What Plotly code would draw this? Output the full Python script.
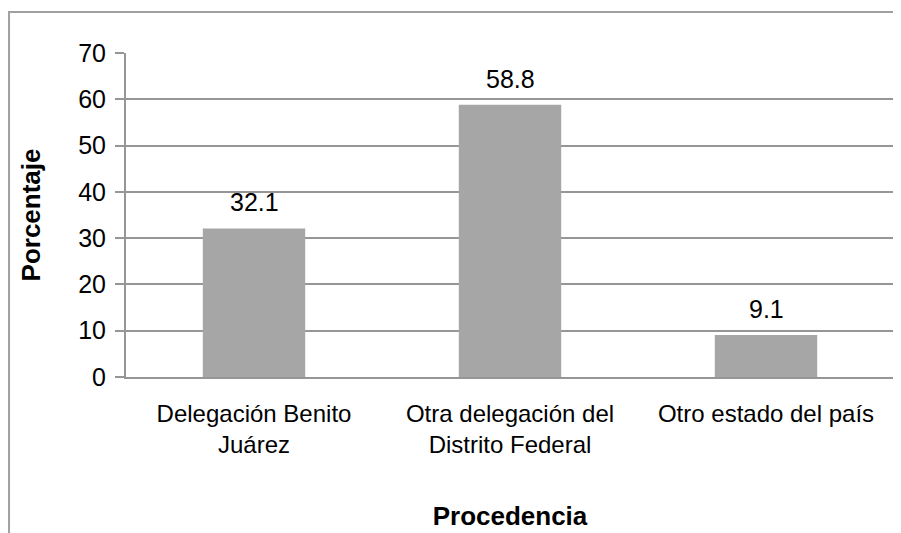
import plotly.graph_objects as go

categorias = ["Delegación Benito<br>Juárez", "Otra delegación del<br>Distrito Federal", "Otro estado del país"]
porcentaje = [32.1, 58.8, 9.1]
etiquetas = ["32.1", "58.8", "9.1"]
y_ticks = [0, 10, 20, 30, 40, 50, 60, 70]

fuente = "Liberation Sans"

fig = go.Figure(data=go.Bar(x=categorias,
                            y=porcentaje,
                            marker=dict(color="#A6A6A6", line=dict(width=0)),
                            width=0.4))

# etiquetas de datos sobre cada barra
for cat, val, txt in zip(categorias, porcentaje, etiquetas):
    fig.add_annotation(x=cat, y=val, text=txt, showarrow=False,
                       yanchor="bottom", yshift=10,
                       font=dict(family=fuente, size=25, color="black"))

fig.update_layout(width=893, height=525,
                  margin=dict(l=118, r=7, t=45, b=156),
                  paper_bgcolor="white",
                  plot_bgcolor="white",
                  showlegend=False,
                  font=dict(family=fuente, size=25, color="black"),
                  shapes=[dict(type="rect", xref="paper", yref="paper",
                               x0=-0.1523, x1=1.2, y0=-1, y1=1.1265,
                               line=dict(color="#A0A0A0", width=2),
                               layer="below")])

fig.update_xaxes(showline=True, linecolor="#969696", linewidth=2,
                 showgrid=False, ticks="", ticklabelstandoff=14,
                 tickfont=dict(family=fuente, size=24),
                 title=dict(text="<b>Procedencia</b>", standoff=50,
                            font=dict(family=fuente, size=26)))
fig.update_yaxes(range=[0, 70], tickvals=y_ticks,
                 showline=True, linecolor="#969696", linewidth=2,
                 showgrid=True, gridcolor="#969696", gridwidth=2,
                 ticks="outside", ticklen=9, tickcolor="#969696", tickwidth=2,
                 tickfont=dict(family=fuente, size=25),
                 ticklabelstandoff=4,
                 zeroline=False,
                 title=dict(text="<b>Porcentaje</b>", standoff=30,
                            font=dict(family=fuente, size=26)))

fig.write_html("out.html")
